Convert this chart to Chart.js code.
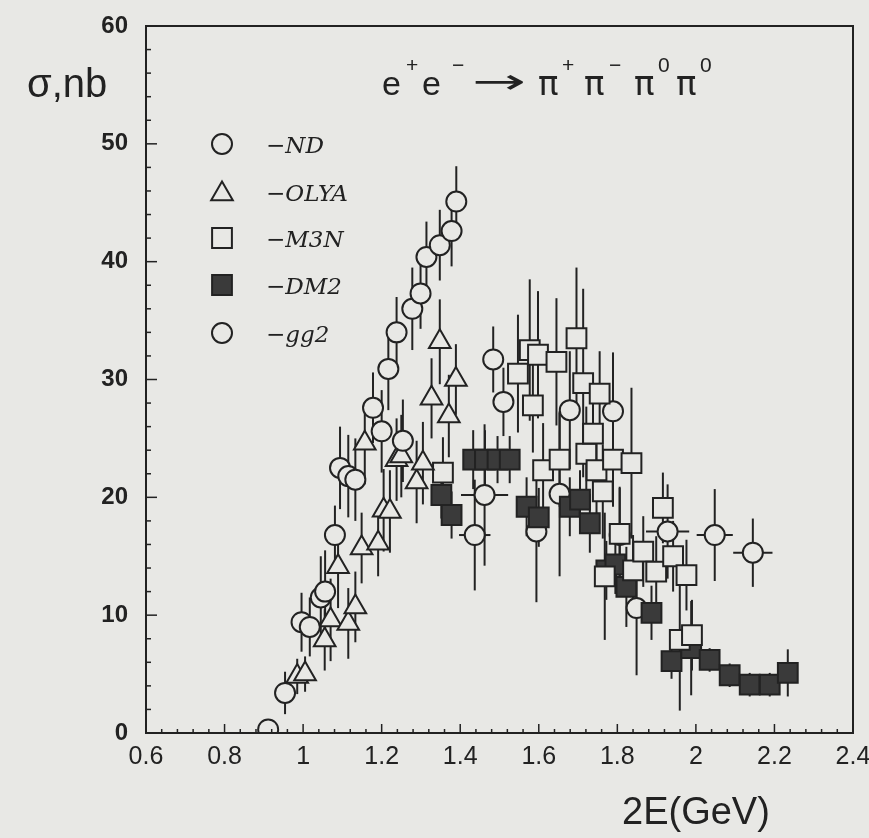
<!DOCTYPE html>
<html><head><meta charset="utf-8">
<script src="https://cdn.jsdelivr.net/npm/chart.js@4.4.1/dist/chart.umd.min.js"></script>
<style>html,body{margin:0;padding:0;background:#e8e8e5;overflow:hidden}#wrap{width:869px;height:838px}</style>
</head><body><div id="wrap"><canvas id="c" width="869" height="838"></canvas></div>
<script>
// ---- tick labels ----
const xTicks = [0.6, 0.8, 1, 1.2, 1.4, 1.6, 1.8, 2, 2.2, 2.4];
const yTicks = [0, 10, 20, 30, 40, 50, 60];

// ---- ND (open circles) ----
const ndX   = [0.911, 0.954, 0.996, 1.017, 1.045, 1.056, 1.081, 1.094, 1.115, 1.133, 1.178, 1.200, 1.217, 1.238, 1.254, 1.278, 1.299, 1.314, 1.348, 1.378, 1.390];
const ndY   = [0.3, 3.4, 9.4, 9.0, 11.5, 12.0, 16.8, 22.5, 21.8, 21.5, 27.6, 25.6, 30.9, 34.0, 24.8, 36.0, 37.3, 40.4, 41.4, 42.6, 45.1];
const ndErr = [0.4, 1.8, 2.5, 2.5, 3.5, 3.5, 2.5, 3.5, 3.5, 3.5, 3.0, 3.5, 3.5, 3.0, 3.5, 3.5, 3.0, 3.0, 3.0, 3.0, 3.0];

// ---- OLYA (open triangles) ----
const olX   = [0.985, 1.005, 1.055, 1.070, 1.089, 1.115, 1.133, 1.149, 1.157, 1.191, 1.205, 1.221, 1.238, 1.250, 1.289, 1.305, 1.327, 1.348, 1.371, 1.389];
const olY   = [4.8, 5.0, 7.9, 9.6, 14.1, 9.3, 10.7, 15.7, 24.6, 16.1, 18.9, 18.8, 23.2, 23.5, 21.3, 22.9, 28.4, 33.2, 26.9, 30.0];
const olErr = [1.5, 1.5, 2.6, 3.5, 3.5, 3.0, 3.0, 3.0, 3.5, 2.8, 3.5, 3.5, 3.5, 3.5, 3.5, 3.5, 3.4, 3.6, 3.5, 3.0];

// ---- M3N (open squares) ----
const m3X   = [1.356, 1.547, 1.577, 1.585, 1.598, 1.611, 1.645, 1.653, 1.696, 1.713, 1.721, 1.738, 1.747, 1.755, 1.763, 1.789, 1.806, 1.768, 1.836, 1.840, 1.866, 1.899, 1.916, 1.942, 1.959, 1.976, 1.990];
const m3Y   = [22.1, 30.5, 32.5, 27.8, 32.1, 22.3, 31.5, 23.2, 33.5, 29.7, 23.7, 25.4, 22.3, 28.8, 20.5, 23.2, 16.9, 13.3, 22.9, 13.8, 15.4, 13.7, 19.1, 15.0, 7.9, 13.4, 8.3];
const m3Err = [3.0, 5.0, 6.0, 4.0, 5.4, 4.0, 5.4, 4.0, 6.0, 8.0, 4.0, 4.0, 4.0, 3.6, 4.0, 4.0, 4.0, 5.4, 6.4, 3.0, 3.0, 3.0, 3.0, 3.0, 6.0, 3.0, 3.0];

// ---- DM2 (filled squares) ----
const dmX   = [1.352, 1.378, 1.433, 1.463, 1.495, 1.526, 1.569, 1.600, 1.679, 1.705, 1.730, 1.772, 1.795, 1.823, 1.887, 1.938, 1.988, 2.035, 2.086, 2.137, 2.188, 2.234];
const dmY   = [20.2, 18.5, 23.2, 23.2, 23.2, 23.2, 19.2, 18.3, 19.2, 19.8, 17.8, 13.8, 14.3, 12.4, 10.2, 6.1, 7.2, 6.2, 4.9, 4.1, 4.1, 5.1];
const dmErr = [2.0, 2.0, 2.5, 2.5, 2.0, 2.0, 2.5, 2.5, 2.5, 2.5, 2.5, 2.5, 2.5, 3.4, 2.3, 1.5, 4.0, 1.0, 1.0, 1.0, 1.0, 2.0];

// ---- gg2 (open circles, some with energy bars) ----
const ggX    = [1.437, 1.462, 1.484, 1.510, 1.594, 1.653, 1.679, 1.789, 1.806, 1.849, 1.928, 2.048, 2.145];
const ggY    = [16.8, 20.2, 31.7, 28.1, 17.1, 20.3, 27.4, 27.3, 16.8, 10.6, 17.1, 16.8, 15.3];
const ggErr  = [4.7, 6.0, 2.8, 2.9, 6.0, 7.0, 5.0, 5.0, 4.0, 5.7, 4.0, 3.9, 2.9];
const ggXErr = [0.04, 0.06, 0, 0, 0, 0, 0, 0, 0, 0, 0.055, 0.046, 0.05];

const INK = '#222';
const BG = '#e8e8e5';

function pts(xs, ys) { return xs.map((x, i) => ({ x: x, y: ys[i] })); }

const seriesStyle = {
  circle: { pointStyle: 'circle', pointRadius: 10, backgroundColor: BG, borderColor: INK },
  tri:    { pointStyle: 'triangle', pointRadius: 12.5, backgroundColor: BG, borderColor: INK },
  sq:     { pointStyle: 'rect', pointRadius: 14, backgroundColor: BG, borderColor: INK },
  fsq:    { pointStyle: 'rect', pointRadius: 14, backgroundColor: '#3a3a3a', borderColor: INK }
};

const datasets = [
  Object.assign({ label: 'ND',   data: pts(ndX, ndY), errY: ndErr }, seriesStyle.circle),
  Object.assign({ label: 'OLYA', data: pts(olX, olY), errY: olErr }, seriesStyle.tri),
  Object.assign({ label: 'M3N',  data: pts(m3X, m3Y), errY: m3Err }, seriesStyle.sq),
  Object.assign({ label: 'DM2',  data: pts(dmX, dmY), errY: dmErr }, seriesStyle.fsq),
  Object.assign({ label: 'gg2',  data: pts(ggX, ggY), errY: ggErr, errX: ggXErr }, seriesStyle.circle)
];
datasets.forEach(d => { d.borderWidth = 2; d.pointHoverRadius = d.pointRadius; d.showLine = false; });

const bgPlugin = {
  id: 'bg',
  beforeDraw(chart) {
    const c = chart.ctx; c.save(); c.fillStyle = BG; c.fillRect(0, 0, chart.width, chart.height); c.restore();
  }
};

const errPlugin = {
  id: 'errbars',
  beforeDatasetsDraw(chart) {
    const c = chart.ctx, xs = chart.scales.x, ys = chart.scales.y;
    c.save();
    c.strokeStyle = INK; c.lineWidth = 2;
    chart.data.datasets.forEach(ds => {
      ds.data.forEach((p, i) => {
        const px = xs.getPixelForValue(p.x);
        const e = ds.errY ? ds.errY[i] : 0;
        if (e) {
          c.beginPath();
          c.moveTo(px, ys.getPixelForValue(p.y + e));
          c.lineTo(px, ys.getPixelForValue(Math.max(0, p.y - e)));
          c.stroke();
        }
        const ex = ds.errX ? ds.errX[i] : 0;
        if (ex) {
          const py = ys.getPixelForValue(p.y);
          c.beginPath();
          c.moveTo(xs.getPixelForValue(p.x - ex), py);
          c.lineTo(xs.getPixelForValue(p.x + ex), py);
          c.stroke();
        }
      });
    });
    c.restore();
  }
};

const framePlugin = {
  id: 'frame',
  afterDraw(chart) {
    const c = chart.ctx, a = chart.chartArea, xs = chart.scales.x, ys = chart.scales.y;
    c.save();
    c.strokeStyle = INK; c.lineWidth = 2;
    c.strokeRect(a.left, a.top, a.right - a.left, a.bottom - a.top);
    c.lineWidth = 1.5;
    // x ticks, inward from bottom
    for (let i = 0; i <= 45; i++) {
      const v = 0.6 + 0.04 * i;
      const px = xs.getPixelForValue(v);
      const len = (i % 5 === 0) ? 9 : 4;
      c.beginPath(); c.moveTo(px, a.bottom); c.lineTo(px, a.bottom - len); c.stroke();
    }
    // y ticks, inward from left
    for (let v = 0; v <= 60; v += 2) {
      const py = ys.getPixelForValue(v);
      const len = (v % 10 === 0) ? 11 : 5;
      c.beginPath(); c.moveTo(a.left, py); c.lineTo(a.left + len, py); c.stroke();
    }
    c.restore();
  }
};

const textPlugin = {
  id: 'texts',
  afterDraw(chart) {
    const c = chart.ctx;
    c.save();
    c.fillStyle = INK;
    c.textBaseline = 'alphabetic';
    c.textAlign = 'left';
    // y title
    c.font = '40px "Liberation Sans", Arial, sans-serif';
    c.fillText('σ,nb', 27, 97);
    // x title
    c.font = '38px "Liberation Sans", Arial, sans-serif';
    c.fillText('2E(GeV)', 622, 824);
    // reaction
    const base = 95, sup = 72;
    const big = '34px "Liberation Sans", Arial, sans-serif';
    const pi = '34px "DejaVu Sans", sans-serif';
    const small = '21px "Liberation Sans", Arial, sans-serif';
    const segs = [
      ['e', 382, base, big], ['+', 406, sup, small],
      ['e', 422, base, big], ['−', 452, sup, small],
      ['π', 538, base, pi], ['+', 562, sup, small],
      ['π', 584, base, pi], ['−', 609, sup, small],
      ['π', 634, base, pi], ['0', 658, sup, small],
      ['π', 676, base, pi], ['0', 700, sup, small]
    ];
    segs.forEach(s => { c.font = s[3]; c.fillText(s[0], s[1], s[2]); });
    // arrow
    c.font = '34px "DejaVu Sans", sans-serif';
    const aw = c.measureText('→').width;
    c.save();
    c.translate(472, base - 2);
    c.scale(54 / aw, 1);
    c.fillText('→', 0, 0);
    c.restore();
    // legend
    const items = [
      ['−ND', 144, seriesStyle.circle, 10],
      ['−OLYA', 192, seriesStyle.tri, 12.5],
      ['−M3N', 238, seriesStyle.sq, 14],
      ['−DM2', 285, seriesStyle.fsq, 14],
      ['−gg2', 333, seriesStyle.circle, 10]
    ];
    items.forEach(it => {
      const st = it[2];
      c.fillStyle = st.backgroundColor; c.strokeStyle = INK; c.lineWidth = 2;
      Chart.helpers.drawPoint(c, { pointStyle: st.pointStyle, radius: it[3], borderWidth: 2, rotation: 0 }, 222, it[1] + (st.pointStyle === 'triangle' ? 2 : 0));
      c.fillStyle = INK;
      c.font = 'italic 23px "DejaVu Serif", serif';
      c.fillText(it[0], 266, it[1] + 9);
    });
    c.restore();
  }
};

new Chart(document.getElementById('c'), {
  type: 'scatter',
  data: { datasets: datasets },
  options: {
    responsive: false,
    animation: false,
    events: [],
    layout: { padding: { top: 26, right: 16, left: 0, bottom: 0 } },
    plugins: { legend: { display: false }, tooltip: { enabled: false } },
    scales: {
      x: {
        type: 'linear', min: 0.6, max: 2.4,
        afterBuildTicks: s => { s.ticks = xTicks.map(v => ({ value: v })); },
        afterFit: s => { s.height = 105; s.paddingLeft = 0; s.paddingRight = 0; },
        grid: { display: false, drawTicks: false },
        border: { display: false },
        ticks: {
          autoSkip: false, maxRotation: 0, padding: 9, color: INK,
          font: { family: '"Liberation Sans", Arial, sans-serif', size: 25 },
          callback: v => String(Math.round(v * 10) / 10)
        }
      },
      y: {
        type: 'linear', min: 0, max: 60,
        afterBuildTicks: s => { s.ticks = yTicks.map(v => ({ value: v })); },
        afterFit: s => { s.width = 146; s.paddingTop = 0; s.paddingBottom = 0; },
        grid: { display: false, drawTicks: false },
        border: { display: false },
        ticks: {
          autoSkip: false, padding: 18, color: INK,
          font: { family: '"Liberation Sans", Arial, sans-serif', size: 24, weight: 'bold' },
          callback: v => String(v)
        }
      }
    }
  },
  plugins: [bgPlugin, errPlugin, framePlugin, textPlugin]
});
</script>
</body></html>
